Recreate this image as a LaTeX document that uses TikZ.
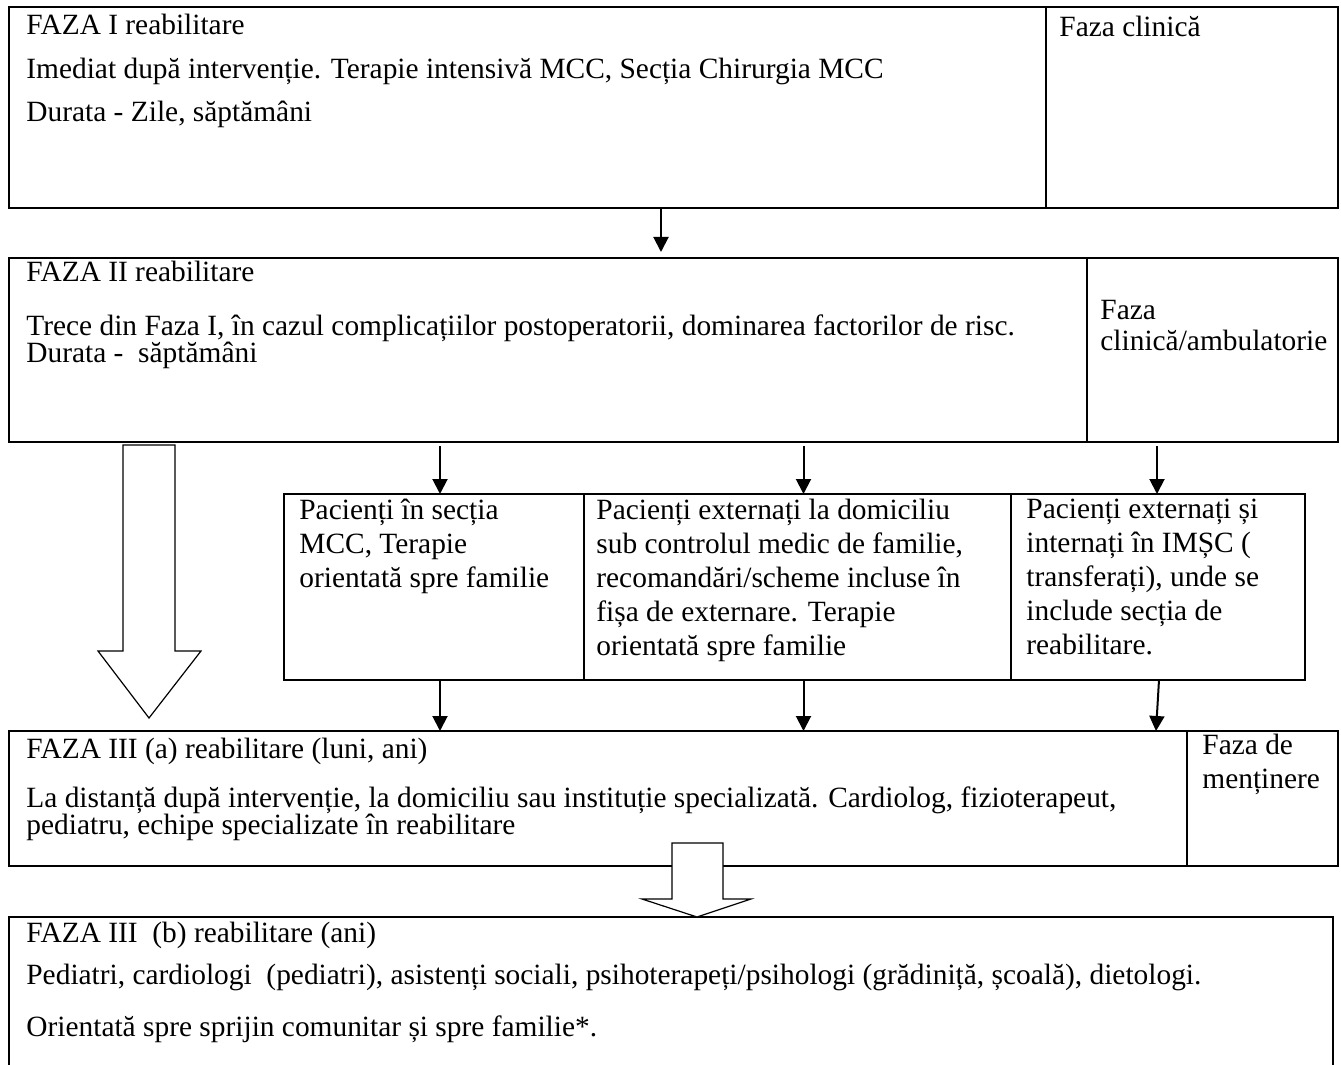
\documentclass[tikz,border=0pt]{standalone}
\usepackage{fontspec}
\setmainfont{Liberation Serif}
\usetikzlibrary{arrows.meta,calc,positioning}

\begin{document}
\begin{tikzpicture}[
  x=0.5pt, y=-0.5pt,
  font=\fontsize{14.7}{16.9}\selectfont,
  box/.style={draw, line width=1.1pt, inner sep=0pt, outer sep=0pt, anchor=north west},
  txt/.style={inner sep=0pt, anchor=north west, align=left, execute at begin node=\strut},
  arr/.style={-{Triangle[length=7.5pt,width=7.5pt]}, line width=1pt},
  hollow/.style={draw, fill=white, line width=0.6pt}
]
  \useasboundingbox (0,0) rectangle (1341,1065);

  \node[box, minimum width=518.5pt, minimum height=100.5pt] (faza1) at (9,7) {};
  \node[box, minimum width=146pt, minimum height=100.5pt] (clin1) at (faza1.north east) {};
  \node[txt] (faza1txt) at ([shift={(17,7)}]faza1.north west) {FAZA I reabilitare\\[5.1pt]
    Imediat după intervenție. Terapie intensivă MCC, Secția Chirurgia MCC\\[4.6pt]
    Durata - Zile, săptămâni};
  \node[txt] (clin1txt) at ([shift={(13,5)}]clin1.north west) {Faza clinică};

  \node[box, minimum width=539pt, minimum height=92pt] (faza2) at (9,258) {};
  \node[box, minimum width=125.5pt, minimum height=92pt] (amb2) at (faza2.north east) {};
  \node[txt] (faza2txt) at ([shift={(17,3)}]faza2.north west) {FAZA II reabilitare\\[10.1pt]
    Trece din Faza I, în cazul complicațiilor postoperatorii, dominarea factorilor de risc.\\[-3.4pt]
    Durata -~~săptămâni};
  \node[txt] (amb2txt) at ([shift={(13,42)}]amb2.north west) {Faza\\[-1.5pt]clinică/ambulatorie};

  \node[box, minimum width=150pt, minimum height=93pt] (sectie) at (284,494) {};
  \node[box, minimum width=213.5pt, minimum height=93pt] (domic) at (sectie.north east) {};
  \node[box, minimum width=147pt, minimum height=93pt] (imsc) at (domic.north east) {};
  \node[txt] (sectietxt) at ([shift={(15,5)}]sectie.north west) {Pacienți în secția\\MCC, Terapie\\orientată spre familie};
  \node[txt] (domictxt) at ([shift={(12,5)}]domic.north west) {Pacienți externați la domiciliu\\sub controlul medic de familie,\\recomandări/scheme incluse în\\fișa de externare. Terapie\\orientată spre familie};
  \node[txt] (imsctxt) at ([shift={(15,5)}]imsc.north west) {Pacienți externați și\\internați în IMȘC (\\transferați), unde se\\include secția de\\reabilitare.};

  \node[box, minimum width=589pt, minimum height=67.5pt] (faza3a) at (9,731) {};
  \node[box, minimum width=75.5pt, minimum height=67.5pt] (ment3a) at (faza3a.north east) {};
  \node[txt] (faza3atxt) at ([shift={(17,7)}]faza3a.north west) {FAZA III (a) reabilitare (luni, ani)\\[7.6pt]
    La distanță după intervenție, la domiciliu sau instituție specializată. Cardiolog, fizioterapeut,\\[-3.4pt]
    pediatru, echipe specializate în reabilitare};
  \node[txt] (ment3atxt) at ([shift={(15,3)}]ment3a.north west) {Faza de\\menținere};

  \node[box, draw=none, minimum width=662pt, minimum height=75pt] (faza3b) at (9,917) {};
  \draw[line width=1.1pt] (faza3b.south west) |- (faza3b.north east) -- (faza3b.south east);
  \node[txt] (faza3btxt) at ([shift={(17,5)}]faza3b.north west) {FAZA III~~(b) reabilitare (ani)\\[4.1pt]
    Pediatri, cardiologi~~(pediatri), asistenți sociali, psihoterapeți/psihologi (grădiniță, școală), dietologi.\\[9.1pt]
    Orientată spre sprijin comunitar și spre familie*.};

  \draw[arr, shorten >=3pt] ([xshift=326pt]faza1.south west) -- ([xshift=326pt]faza1.south west |- faza2.north);
  \draw[arr] ([xshift=3pt,yshift=-2pt]faza2.south -| sectie.north) -- ([xshift=3pt]sectie.north);
  \draw[arr] ([xshift=3pt,yshift=-2pt]faza2.south -| domic.north) -- ([xshift=3pt]domic.north);
  \draw[arr] ([xshift=-0.5pt,yshift=-2pt]faza2.south -| imsc.north) -- ([xshift=-0.5pt]imsc.north);
  \draw[arr] ([xshift=3pt]sectie.south) -- ([xshift=3pt]sectie.south |- faza3a.north);
  \draw[arr] ([xshift=3pt]domic.south) -- ([xshift=3pt]domic.south |- faza3a.north);
  \draw[arr] ([xshift=0.5pt]imsc.south) -- ([xshift=-1pt]imsc.south |- faza3a.north);

  \draw[hollow] (faza2.south west) ++(114,3) -- ++(52,0) -- ++(0,206) -- ++(26,0)
    -- ++(-52,67) -- ++(-51,-67) -- ++(25,0) -- cycle;
  \draw[hollow] (faza3b.north west) ++(663,-74) -- ++(51,0) -- ++(0,56) -- ++(28,0)
    -- ++(-54,18) -- ++(-55,-18) -- ++(30,0) -- cycle;
\end{tikzpicture}
\end{document}
